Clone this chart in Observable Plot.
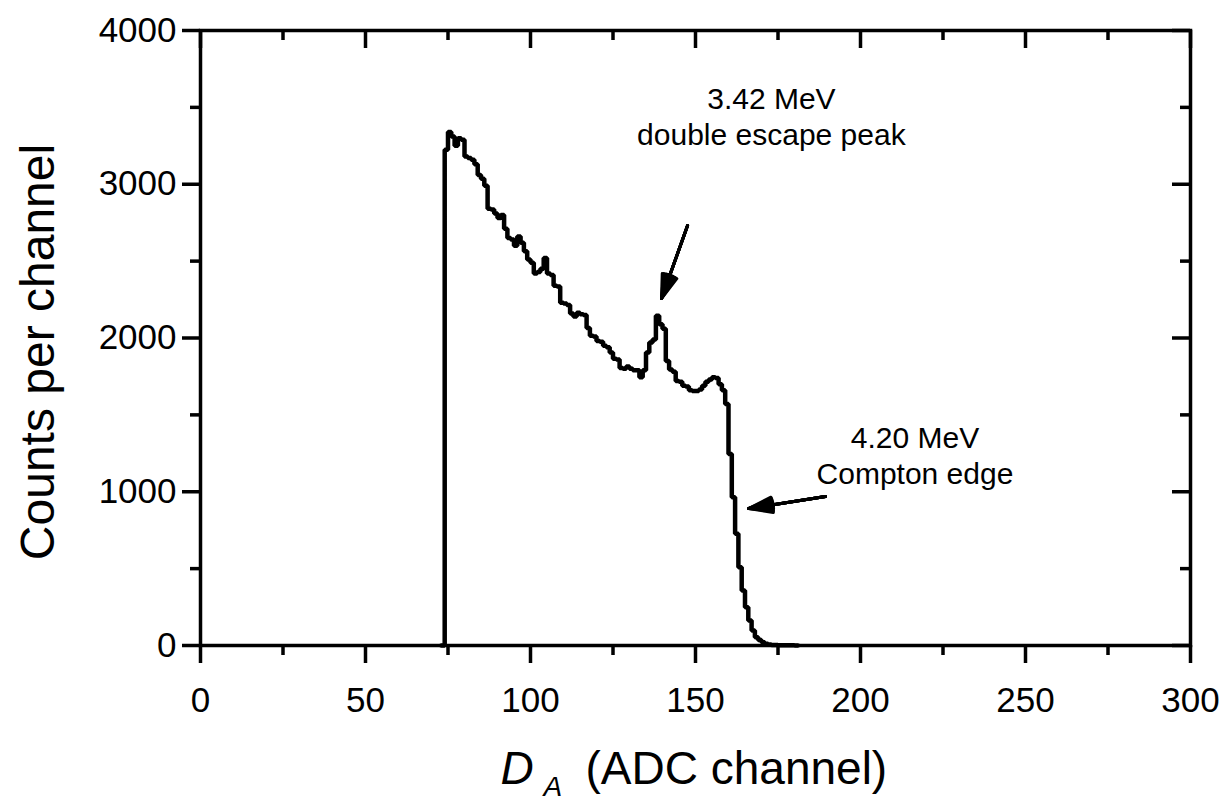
<!DOCTYPE html>
<html>
<head>
<meta charset="utf-8">
<script src="https://cdn.jsdelivr.net/npm/d3@7"></script>
<script src="https://cdn.jsdelivr.net/npm/@observablehq/plot@0.6"></script>
<style>
  html, body { margin: 0; padding: 0; background: #ffffff; }
  #chart svg { display: block; }
</style>
</head>
<body>
<div id="chart"></div>
<script>
// ---- Data ----
const firstChannel = 73;
const countsPerChannel = [
  0,
  3225, 3340, 3310, 3250, 3300, 3290, 3180, 3170, 3160, 3130,   // 74-83
  3060, 3035, 2990, 2840, 2835, 2810, 2780, 2800, 2710, 2650,   // 84-93
  2640, 2600, 2660, 2620, 2565, 2510, 2490, 2420, 2430, 2450,   // 94-103
  2520, 2420, 2410, 2340, 2335, 2230, 2225, 2215, 2160, 2140,   // 104-113
  2165, 2155, 2150, 2065, 2015, 2010, 1980, 1975, 1950, 1940,   // 114-123
  1905, 1865, 1860, 1805, 1800, 1815, 1800, 1790, 1790, 1745,   // 124-133
  1790, 1905, 1970, 1990, 2145, 2090, 2060, 1850, 1795, 1780,   // 134-143
  1720, 1715, 1690, 1685, 1660, 1655, 1655, 1665, 1690, 1715,   // 144-153
  1730, 1745, 1740, 1700, 1660, 1570, 1245, 965, 727, 509,      // 154-163
  357, 249, 162, 97, 54, 35, 21, 12, 6, 4,                      // 164-173
  3, 2, 1, 1, 1, 1, 0, 0                                         // 174-181
];

const xMajorTicks = [0, 50, 100, 150, 200, 250, 300];
const xMinorTicks = [25, 75, 125, 175, 225, 275];
const yMajorTicks = [0, 1000, 2000, 3000, 4000];
const yMinorTicks = [500, 1500, 2500, 3500];

const annotationLabels = ["3.42 MeV\ndouble escape peak", "4.20 MeV\nCompton edge"];
const annotationX = [173.0, 216.5];
const annotationY = [3445, 1240];

const arrowFromX = [147.6, 189.4];
const arrowFromY = [2731, 969];
const arrowToX = [139.7, 166.1];
const arrowToY = [2257, 891];

const yTitle = "Counts per channel";
const xTitleVar = "D";
const xTitleSub = "A";
const xTitleRest = "(ADC channel)";

// ---- Build tables ----
const spectrum = countsPerChannel.map((c, i) => ({channel: firstChannel + i, counts: c}));
const annotations = annotationLabels.map((t, i) => ({text: t, x: annotationX[i], y: annotationY[i]}));
const arrows = arrowFromX.map((_, i) => ({x1: arrowFromX[i], y1: arrowFromY[i], x2: arrowToX[i], y2: arrowToY[i]}));

const W = 1231, H = 807;
const mL = 200, mR = 41, mT = 30, mB = 162;
const innerW = W - mL - mR, innerH = H - mT - mB;
const headAngles = [0, 8, 16, 24, 30, 36];
const axisW = 3.5;

const chart = Plot.plot({
  width: W,
  height: H,
  marginLeft: mL,
  marginRight: mR,
  marginTop: mT,
  marginBottom: mB,
  style: {fontFamily: "'Liberation Sans', Arial, Helvetica, sans-serif", color: "#000", background: "#fff"},
  x: {domain: [0, 300], label: null},
  y: {domain: [0, 4000], label: null},
  marks: [
    // outward ticks bottom / left with labels
    Plot.axisX({ticks: xMajorTicks, tickSize: 18, tickPadding: 24, fontSize: 35, strokeWidth: axisW, label: null, tickFormat: d => String(d)}),
    Plot.axisX({ticks: xMinorTicks, tickSize: 10, strokeWidth: axisW, label: null, tickFormat: () => ""}),
    Plot.axisY({ticks: yMajorTicks, tickSize: 18, tickPadding: 6, fontSize: 35, strokeWidth: axisW, label: null, tickFormat: d => String(d)}),
    Plot.axisY({ticks: yMinorTicks, tickSize: 10, strokeWidth: axisW, label: null, tickFormat: () => ""}),
    // inward ticks top / right
    Plot.tickX(xMajorTicks, {x: d => d, insetBottom: innerH - 18, strokeWidth: axisW}),
    Plot.tickX(xMinorTicks, {x: d => d, insetBottom: innerH - 10, strokeWidth: axisW}),
    Plot.tickY(yMajorTicks, {y: d => d, insetLeft: innerW - 18, strokeWidth: axisW}),
    Plot.tickY(yMinorTicks, {y: d => d, insetLeft: innerW - 10, strokeWidth: axisW}),
    Plot.frame({strokeWidth: axisW}),
    // spectrum
    Plot.line(spectrum, {x: "channel", y: "counts", curve: "step-after", strokeWidth: 4.5, stroke: "#000", strokeLinejoin: "miter"}),
    // arrows (fan of heads makes a filled arrowhead)
    ...headAngles.map(a => Plot.arrow(arrows, {x1: "x1", y1: "y1", x2: "x2", y2: "y2", strokeWidth: 3, headLength: 12.5, headAngle: a, stroke: "#000"})),
    // annotations
    Plot.text(annotations, {x: "x", y: "y", text: "text", fontSize: 30, lineHeight: 1.2, fill: "#000"}),
    // axis titles
    Plot.text([yTitle], {frameAnchor: "left", textAnchor: "middle", dx: -162, dy: 14, rotate: -90, fontSize: 48, fill: "#000"}),
    Plot.text([xTitleVar], {frameAnchor: "bottom", textAnchor: "start", dx: -195, dy: 138, fontSize: 46, fontStyle: "italic", fill: "#000"}),
    Plot.text([xTitleSub], {frameAnchor: "bottom", textAnchor: "start", dx: -152, dy: 150, fontSize: 28, fontStyle: "italic", fill: "#000"}),
    Plot.text([xTitleRest], {frameAnchor: "bottom", textAnchor: "start", dx: -110, dy: 138, fontSize: 46, fill: "#000"})
  ]
});
document.getElementById("chart").appendChild(chart);
</script>
</body>
</html>
